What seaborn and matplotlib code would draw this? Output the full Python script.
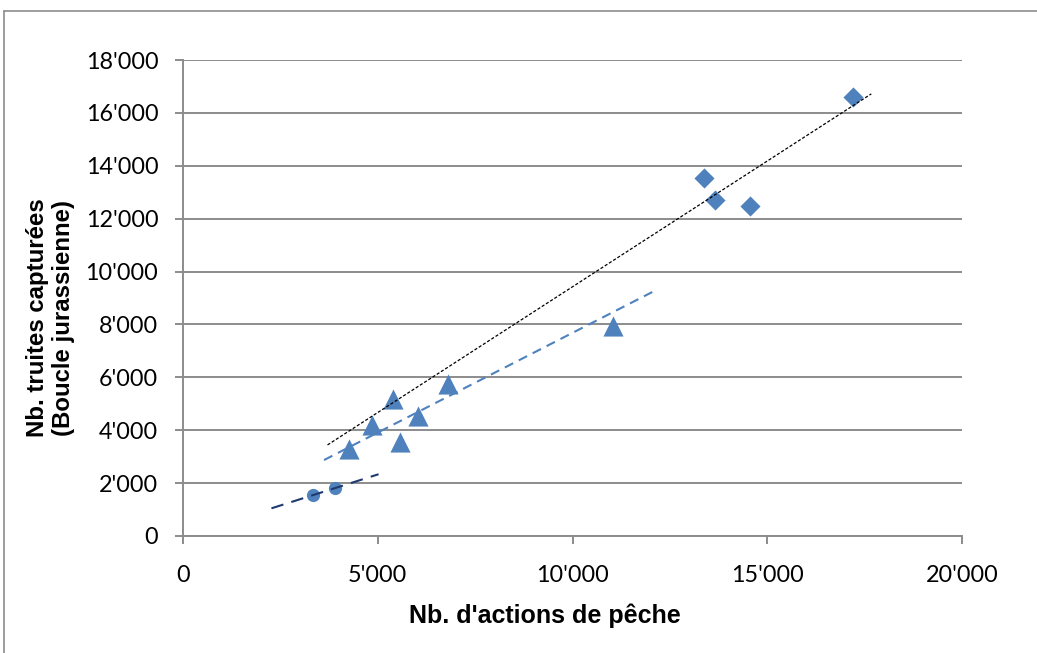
import numpy as np
import pandas as pd
import matplotlib
matplotlib.use("Agg")
import matplotlib.pyplot as plt
from matplotlib.ticker import FuncFormatter, MultipleLocator
from matplotlib.lines import Line2D
import seaborn as sns

# Data
circle_x = [3330, 3900]
circle_y = [1550, 1815]

triangle_x = [4260, 4850, 5390, 5560, 6030, 6800, 11050]
triangle_y = [3290, 4200, 5180, 3555, 4540, 5750, 7940]

diamond_x = [13385, 13670, 14550, 17205]
diamond_y = [13550, 12710, 12490, 16610]

# trend lines: x range, slope, intercept
circle_trend = dict(x=[2270, 5020], slope=0.469, intercept=-19)
triangle_trend = dict(x=[3620, 12100], slope=0.754, intercept=142)
diamond_trend = dict(x=[3710, 17670], slope=0.951, intercept=-85)

BLUE = "#4F81BD"
NAVY = "#1F3A70"
GRID = "#8C8C8C"

sns.set_theme(style="white")
plt.rcParams["font.family"] = ["Lato", "DejaVu Sans"]

fig = plt.figure(figsize=(10.37, 6.53), dpi=100)
ax = fig.add_axes([0.1765, 0.1792, 0.9277 - 0.1765, 0.9081 - 0.1792])

df_c = pd.DataFrame({"x": circle_x, "y": circle_y})
df_t = pd.DataFrame({"x": triangle_x, "y": triangle_y})
df_d = pd.DataFrame({"x": diamond_x, "y": diamond_y})

sns.scatterplot(data=df_c, x="x", y="y", marker="o", s=90, color=BLUE,
                linewidth=0, ax=ax, zorder=3)
sns.scatterplot(data=df_t, x="x", y="y", marker="^", s=210, color=BLUE,
                linewidth=0, ax=ax, zorder=3)
sns.scatterplot(data=df_d, x="x", y="y", marker="D", s=105, color=BLUE,
                linewidth=0, ax=ax, zorder=3)


def trend(tr):
    xs = np.array(tr["x"], dtype=float)
    return pd.DataFrame({"x": xs, "y": tr["slope"] * xs + tr["intercept"]})


sns.lineplot(data=trend(circle_trend), x="x", y="y", color=NAVY, lw=1.5,
             ax=ax, zorder=4, linestyle=(0, (6, 4)))
sns.lineplot(data=trend(triangle_trend), x="x", y="y", color=BLUE, lw=1.5,
             ax=ax, zorder=4, linestyle=(0, (4.5, 3)))
sns.lineplot(data=trend(diamond_trend), x="x", y="y", color="black", lw=0.9,
             ax=ax, zorder=4, linestyle=(0, (2.5, 1.5)))

ax.set_xlim(0, 20000)
ax.set_ylim(0, 18000)
ax.xaxis.set_major_locator(MultipleLocator(5000))
ax.yaxis.set_major_locator(MultipleLocator(2000))
fmt = FuncFormatter(lambda v, p: f"{int(v):,}".replace(",", "'"))
ax.xaxis.set_major_formatter(fmt)
ax.yaxis.set_major_formatter(fmt)

ax.grid(axis="y", color=GRID, lw=1.4)
ax.set_axisbelow(True)
for s in ["top", "right"]:
    ax.spines[s].set_visible(False)
for s in ["left", "bottom"]:
    ax.spines[s].set_color(GRID)
    ax.spines[s].set_linewidth(1.4)
ax.tick_params(axis="both", length=5.8, width=1.4, color=GRID, direction="out",
               labelsize=16.8, labelcolor="black")
ax.tick_params(axis="x", pad=15)
ax.tick_params(axis="y", pad=12)
ax.tick_params(bottom=True, left=True)

label_font = dict(family=["Liberation Sans", "DejaVu Sans"], weight="bold",
                  color="black")
ax.set_xlabel("Nb. d'actions de pêche", size=18, **label_font)
ax.set_ylabel("Nb. truites capturées\n(Boucle jurassienne)", size=17.3,
              linespacing=1.15, **label_font)
ax.xaxis.set_label_coords(0.464, -0.168)
ax.xaxis.label.set_va("center")
ax.yaxis.set_label_coords(-0.1705, 0.458)
ax.yaxis.label.set_va("center")

# chart frame (left and top edges visible in the reference)
fig.add_artist(Line2D([4 / 1037, 4 / 1037], [0, 1 - 11 / 653],
                      transform=fig.transFigure, color="#8C8C8C", lw=1.2))
fig.add_artist(Line2D([4 / 1037, 1], [1 - 11 / 653, 1 - 11 / 653],
                      transform=fig.transFigure, color="#8C8C8C", lw=1.2))

fig.savefig("out.png", dpi=100)
